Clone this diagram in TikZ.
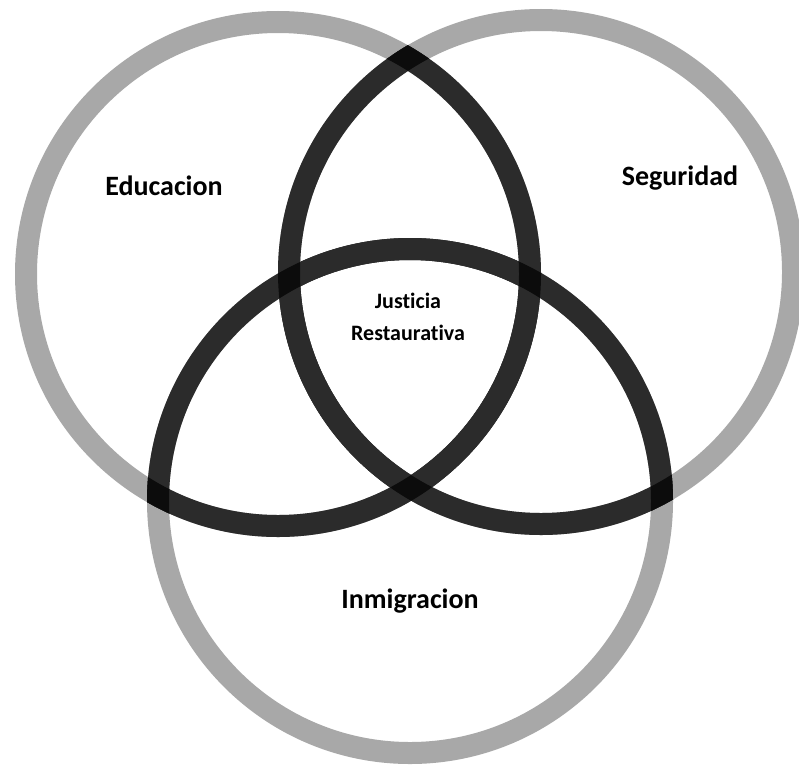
\documentclass[tikz,border=0pt]{standalone}
\usepackage{fontspec}
\setmainfont{Carlito}[RawFeature={-liga}]
\begin{document}
\begin{tikzpicture}[x=1pt,y=-1pt]
\definecolor{ringgray}{RGB}{168,168,168}
\definecolor{ringdark}{RGB}{43,43,43}
\definecolor{ringcross}{RGB}{12,12,12}
\tikzset{
  ring/.style={line width=22pt},
  biglabel/.style={anchor=base, font=\bfseries\fontsize{28}{34}\selectfont, text=black},
  smalllabel/.style={anchor=base, font=\bfseries\fontsize{22}{26}\selectfont, text=black}
}
\useasboundingbox (0,0) rectangle (799,768);
\fill[white] (0,0) rectangle (799,768);
\coordinate (L) at (278,274);
\coordinate (R) at (541,272);
\coordinate (B) at (410,501);
% gray rings
\foreach \c in {L,R,B}
  \draw[ring, ringgray] (\c) circle[radius=252pt];
% dark parts inside the other circles
\foreach \i/\j in {L/R,L/B,R/L,R/B,B/L,B/R}{
  \begin{scope}
    \clip (\j) circle[radius=263pt];
    \draw[ring, ringdark] (\i) circle[radius=252pt];
  \end{scope}
}
% crossings
\foreach \i/\j in {L/R,L/B,R/B}{
  \begin{scope}[even odd rule]
    \clip (\i) circle[radius=263pt] (\i) circle[radius=241pt];
    \draw[ring, ringcross] (\j) circle[radius=252pt];
  \end{scope}
}
\node[biglabel] (edu) at (164,195) {Educacion};
\node[biglabel] (seg) at (680,185) {Seguridad};
\node[biglabel] (inm) at (410,608) {Inmigracion};
\node[smalllabel] (jus) at (408,308) {Justicia};
\node[smalllabel] (res) at (408,340) {Restaurativa};
\end{tikzpicture}
\end{document}
